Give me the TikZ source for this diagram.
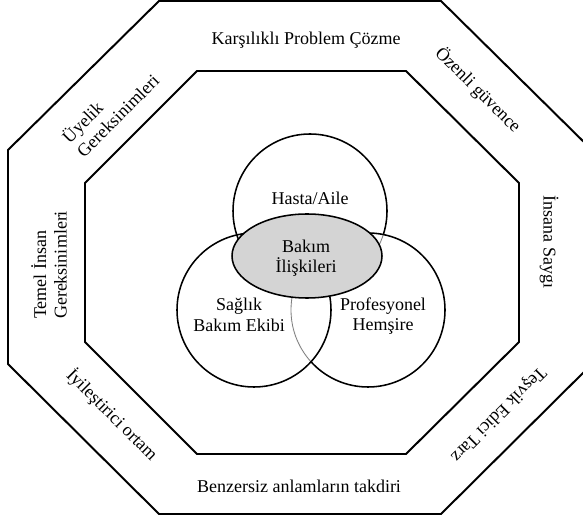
\documentclass[tikz,border=0pt]{standalone}
\usepackage{fontspec}
\setmainfont{Liberation Serif}
\definecolor{bakimgray}{RGB}{212,212,212}

\begin{document}
\begin{tikzpicture}[x=0.025cm,y=0.025cm,
  frame/.style={draw,line width=1.4pt,line join=miter},
  ring/.style={draw,line width=1.1pt},
  hidden/.style={draw=gray,line width=0.6pt},
  erase/.style={draw=white,line width=2pt},
  lbl/.style={font=\fontsize{12.8}{14.5}\selectfont,align=center,inner sep=0pt}]

\clip (0,0) rectangle (583,519);

% octagons
\draw[frame] (159,518) -- (441,518) -- (592,369) -- (592,155)
  -- (441,5) -- (159,5) -- (8,155) -- (8,369) -- cycle;
\draw[frame] (197,448) -- (406,448) -- (519,336) -- (519,177)
  -- (406,65) -- (197,65) -- (85,177) -- (85,336) -- cycle;

% outer ring labels
\node[lbl] (problem) at (306,479) {Karşılıklı Problem Çözme};
\node[lbl,rotate=-45] (guvence) at (478,429) {Özenli güvence};
\node[lbl,rotate=-90] (saygi) at (549,277) {İnsana Saygı};
\node[lbl,rotate=225] (tesvik) at (498,105) {Teşvik Edici Tarz};
\node[lbl] (takdir) at (299,33) {Benzersiz anlamların takdiri};
\node[lbl,rotate=-45] (ortam) at (112,104) {İyileştirici ortam};
\node[lbl,rotate=90,align=left] (temel) at (49,254) {Temel İnsan\\Gereksinimleri};
\node[lbl,rotate=45,align=left] (uyelik) at (110,411) {Üyelik\\Gereksinimleri};

% circles
\def\r{77}
\coordinate (hasta) at (310,308);
\coordinate (saglik) at (254,209);
\coordinate (prof) at (368,209);

\draw[ring] (hasta) circle (\r);
\begin{scope} %hasta inside prof
 \clip (prof) circle (\r);
 \draw[erase] (hasta) circle (\r);
 \draw[hidden] (hasta) circle (\r);
\end{scope}

\draw[ring] (prof) circle (\r);
\begin{scope} %prof inside saglik
 \clip (saglik) circle (\r);
 \draw[erase] (prof) circle (\r);
 \draw[hidden] (prof) circle (\r);
\end{scope}

\draw[ring] (saglik) circle (\r);

\draw[ring,fill=bakimgray] (307,263) ellipse [x radius=75,y radius=42];

% circle labels
\node[lbl] (hastaaile) at (310,321) {Hasta/Aile};
\node[lbl] (bakim) at (306,261) {Bakım\\İlişkileri};
\node[lbl] (ekip) at (239,204) {Sağlık\\Bakım Ekibi};
\node[lbl] (hemsire) at (383,203) {Profesyonel\\Hemşire};

\end{tikzpicture}
\end{document}
